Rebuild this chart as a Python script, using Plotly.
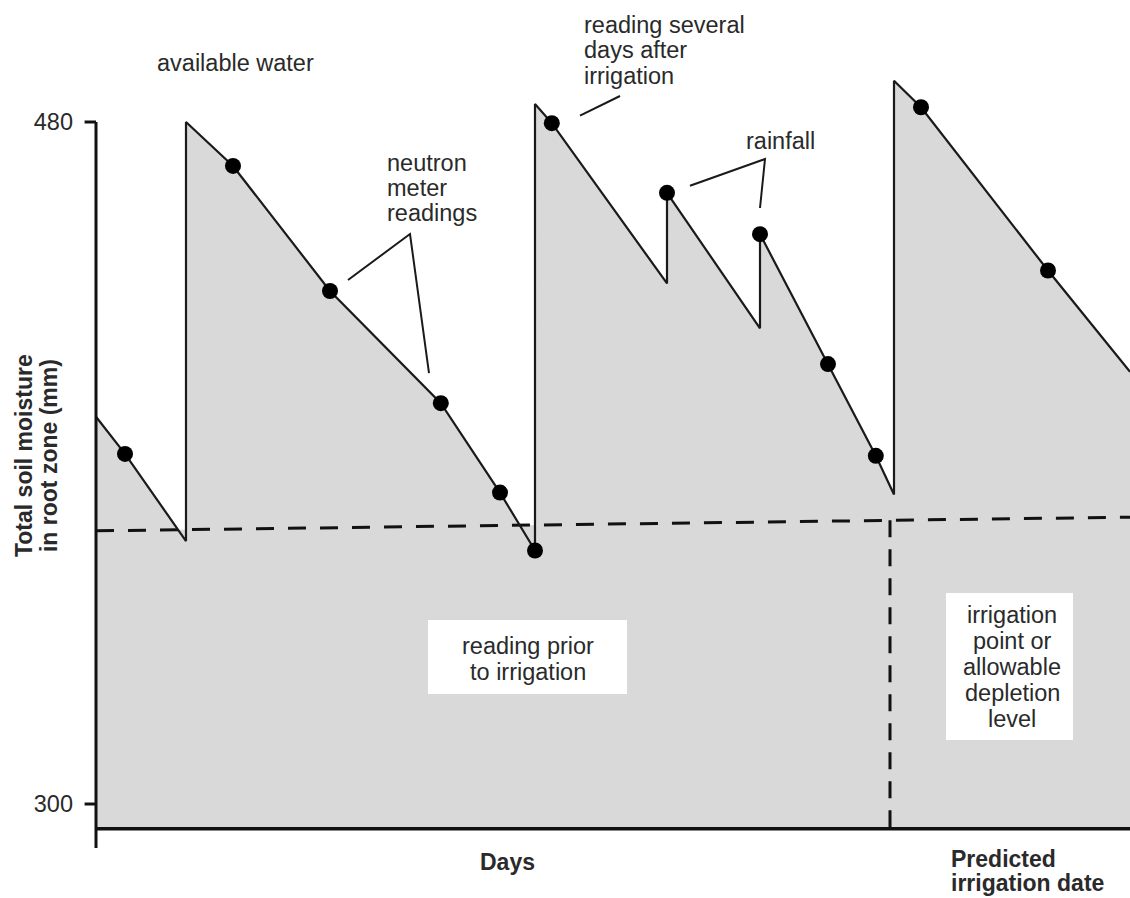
import numpy as np
import plotly.graph_objects as go

# ---------------- data (days, mm of soil moisture) ----------------
curve_days = [0, 1.45, 4.5, 4.5, 6.85, 11.7, 17.24, 20.2, 21.95, 21.95, 22.79,
              28.55, 28.55, 33.2, 33.2, 36.6, 38.99, 39.9, 39.9, 41.25, 47.6, 51.7]
curve_mm = [402.2, 392.4, 369.4, 480.0, 468.4, 435.4, 405.8, 382.2, 366.9, 484.75, 479.7,
            437.4, 461.3, 425.55, 450.4, 416.1, 391.9, 381.7, 490.9, 483.9, 440.8, 414.1]

reading_days = [1.45, 6.85, 11.7, 17.24, 20.2, 21.95, 22.79, 28.55, 33.2, 36.6, 38.99, 41.25, 47.6]
reading_mm = [392.4, 468.4, 435.4, 405.8, 382.2, 366.9, 479.7, 461.3, 450.4, 416.1, 391.9, 483.9, 440.8]

depletion_days = [0, 51.7]
depletion_mm = [372.1, 375.7]
predicted_day = 39.7

y_ticks = [300, 480]
y_tick_labels = ["300", "480"]
base_mm = 293.48

# ---------------- styling ----------------
FONT = "Liberation Sans, Arial, Helvetica, sans-serif"
TXT = "#2a2a2a"
GRAY = "#d9d9d9"
FS = 23.5
FSB = 23
X_RANGE = [-0.8, 51.7]
Y_RANGE = [288.39, 512.2]

fig = go.Figure()

# shaded region below the allowable depletion level
fig.add_trace(go.Scatter(
    x=depletion_days + depletion_days[::-1],
    y=depletion_mm + [base_mm, base_mm],
    fill="toself", fillcolor=GRAY, line=dict(width=0), mode="lines",
    hoverinfo="skip"))

# shaded area under the soil moisture curve
fig.add_trace(go.Scatter(
    x=curve_days + [curve_days[-1], curve_days[0]],
    y=curve_mm + [base_mm, base_mm],
    fill="toself", fillcolor=GRAY, line=dict(width=0), mode="lines",
    hoverinfo="skip"))

# allowable depletion level (dashed)
fig.add_trace(go.Scatter(
    x=depletion_days, y=depletion_mm, mode="lines",
    line=dict(color="#111111", width=3, dash="18px,14px")))

# predicted irrigation date (dashed vertical)
pred_mm = float(np.interp(predicted_day, depletion_days, depletion_mm))
fig.add_trace(go.Scatter(
    x=[predicted_day, predicted_day], y=[pred_mm, base_mm], mode="lines",
    line=dict(color="#111111", width=3, dash="17px,12px")))

# soil moisture curve
fig.add_trace(go.Scatter(
    x=curve_days, y=curve_mm, mode="lines",
    line=dict(color="#1a1a1a", width=2.2)))

# neutron meter readings
fig.add_trace(go.Scatter(
    x=reading_days, y=reading_mm, mode="markers",
    marker=dict(color="#000000", size=16)))

shapes = []
# axes drawn as lines
shapes.append(dict(type="line", xref="x", yref="y", x0=0, x1=0, y0=480, y1=Y_RANGE[0],
                   line=dict(color="#111111", width=3), layer="above"))
for t in y_ticks:
    shapes.append(dict(type="line", xref="x", yref="y", x0=-0.57, x1=0, y0=t, y1=t,
                       line=dict(color="#111111", width=3), layer="above"))
shapes.append(dict(type="line", xref="x", yref="y", x0=0, x1=51.7, y0=base_mm, y1=base_mm,
                   line=dict(color="#111111", width=3.5), layer="above"))

# leader lines
lead = dict(color="#1a1a1a", width=2)
shapes.append(dict(type="path", xref="x", yref="y",
                   path="M 12.6 438.3 L 15.7 450.44 L 16.65 413.75", line=lead, layer="above"))
shapes.append(dict(type="line", xref="x", yref="y", x0=24.2, y0=481.66, x1=26.2, y1=486.86,
                   line=lead, layer="above"))
shapes.append(dict(type="path", xref="x", yref="y",
                   path="M 29.7 463.19 L 33.45 470.23 L 33.2 457.3", line=lead, layer="above"))

# white label boxes
shapes.append(dict(type="rect", xref="x", yref="y", x0=16.6, x1=26.55, y0=329.03, y1=348.56,
                   fillcolor="white", line=dict(width=0), layer="above"))
shapes.append(dict(type="rect", xref="x", yref="y", x0=42.5, x1=48.85, y0=316.89, y1=355.69,
                   fillcolor="white", line=dict(width=0), layer="above"))

annotations = []


def label(text, x, y, xanchor="center", xref="x", yref="y", bold=False, angle=0):
    annotations.append(dict(
        text=f"<b>{text}</b>" if bold else text, x=x, y=y, xref=xref, yref=yref,
        xanchor=xanchor, yanchor="middle", showarrow=False, textangle=angle,
        borderpad=0,
        font=dict(family=FONT, size=FSB if bold else FS, color=TXT)))


label("available water", 6.95, 495.57)
for t, y in zip(["neutron", "meter", "readings"], [469.18, 462.58, 455.98]):
    label(t, 14.5, y, xanchor="left")
for t, y in zip(["reading several", "days after", "irrigation"], [505.6, 499.0, 492.14]):
    label(t, 24.35, y, xanchor="left")
label("rainfall", 34.2, 474.99)
for t, y in zip(["reading prior", "to irrigation"], [341.7, 334.84]):
    label(t, 21.6, y)
for t, y in zip(["irrigation", "point or", "allowable", "depletion", "level"],
                [349.88, 343.02, 336.16, 329.3, 322.43]):
    label(t, 45.8, y)

label("Days", 20.55, -0.0165, yref="paper", bold=True)
label("Predicted", 42.7, -0.0125, xanchor="left", yref="paper", bold=True)
label("irrigation date", 42.7, -0.041, xanchor="left", yref="paper", bold=True)
label("Total soil moisture", -0.0533, 391.85, xref="paper", bold=True, angle=-90)
label("in root zone (mm)", -0.0295, 391.85, xref="paper", bold=True, angle=-90)

fig.update_layout(
    width=1130, height=898,
    margin=dict(l=80, r=0, t=0, b=50),
    paper_bgcolor="white", plot_bgcolor="white",
    showlegend=False,
    shapes=shapes, annotations=annotations,
    xaxis=dict(range=X_RANGE, visible=False, fixedrange=True),
    yaxis=dict(range=Y_RANGE, showgrid=False, zeroline=False, showline=False,
               tickvals=y_ticks, ticktext=y_tick_labels, ticks="",
               ticklabelstandoff=6,
               tickfont=dict(family=FONT, size=FS, color=TXT), fixedrange=True),
)

fig.write_html("out.html", config={"displayModeBar": False},
               post_script="document.body.style.margin='0';document.body.style.overflow='hidden';")
